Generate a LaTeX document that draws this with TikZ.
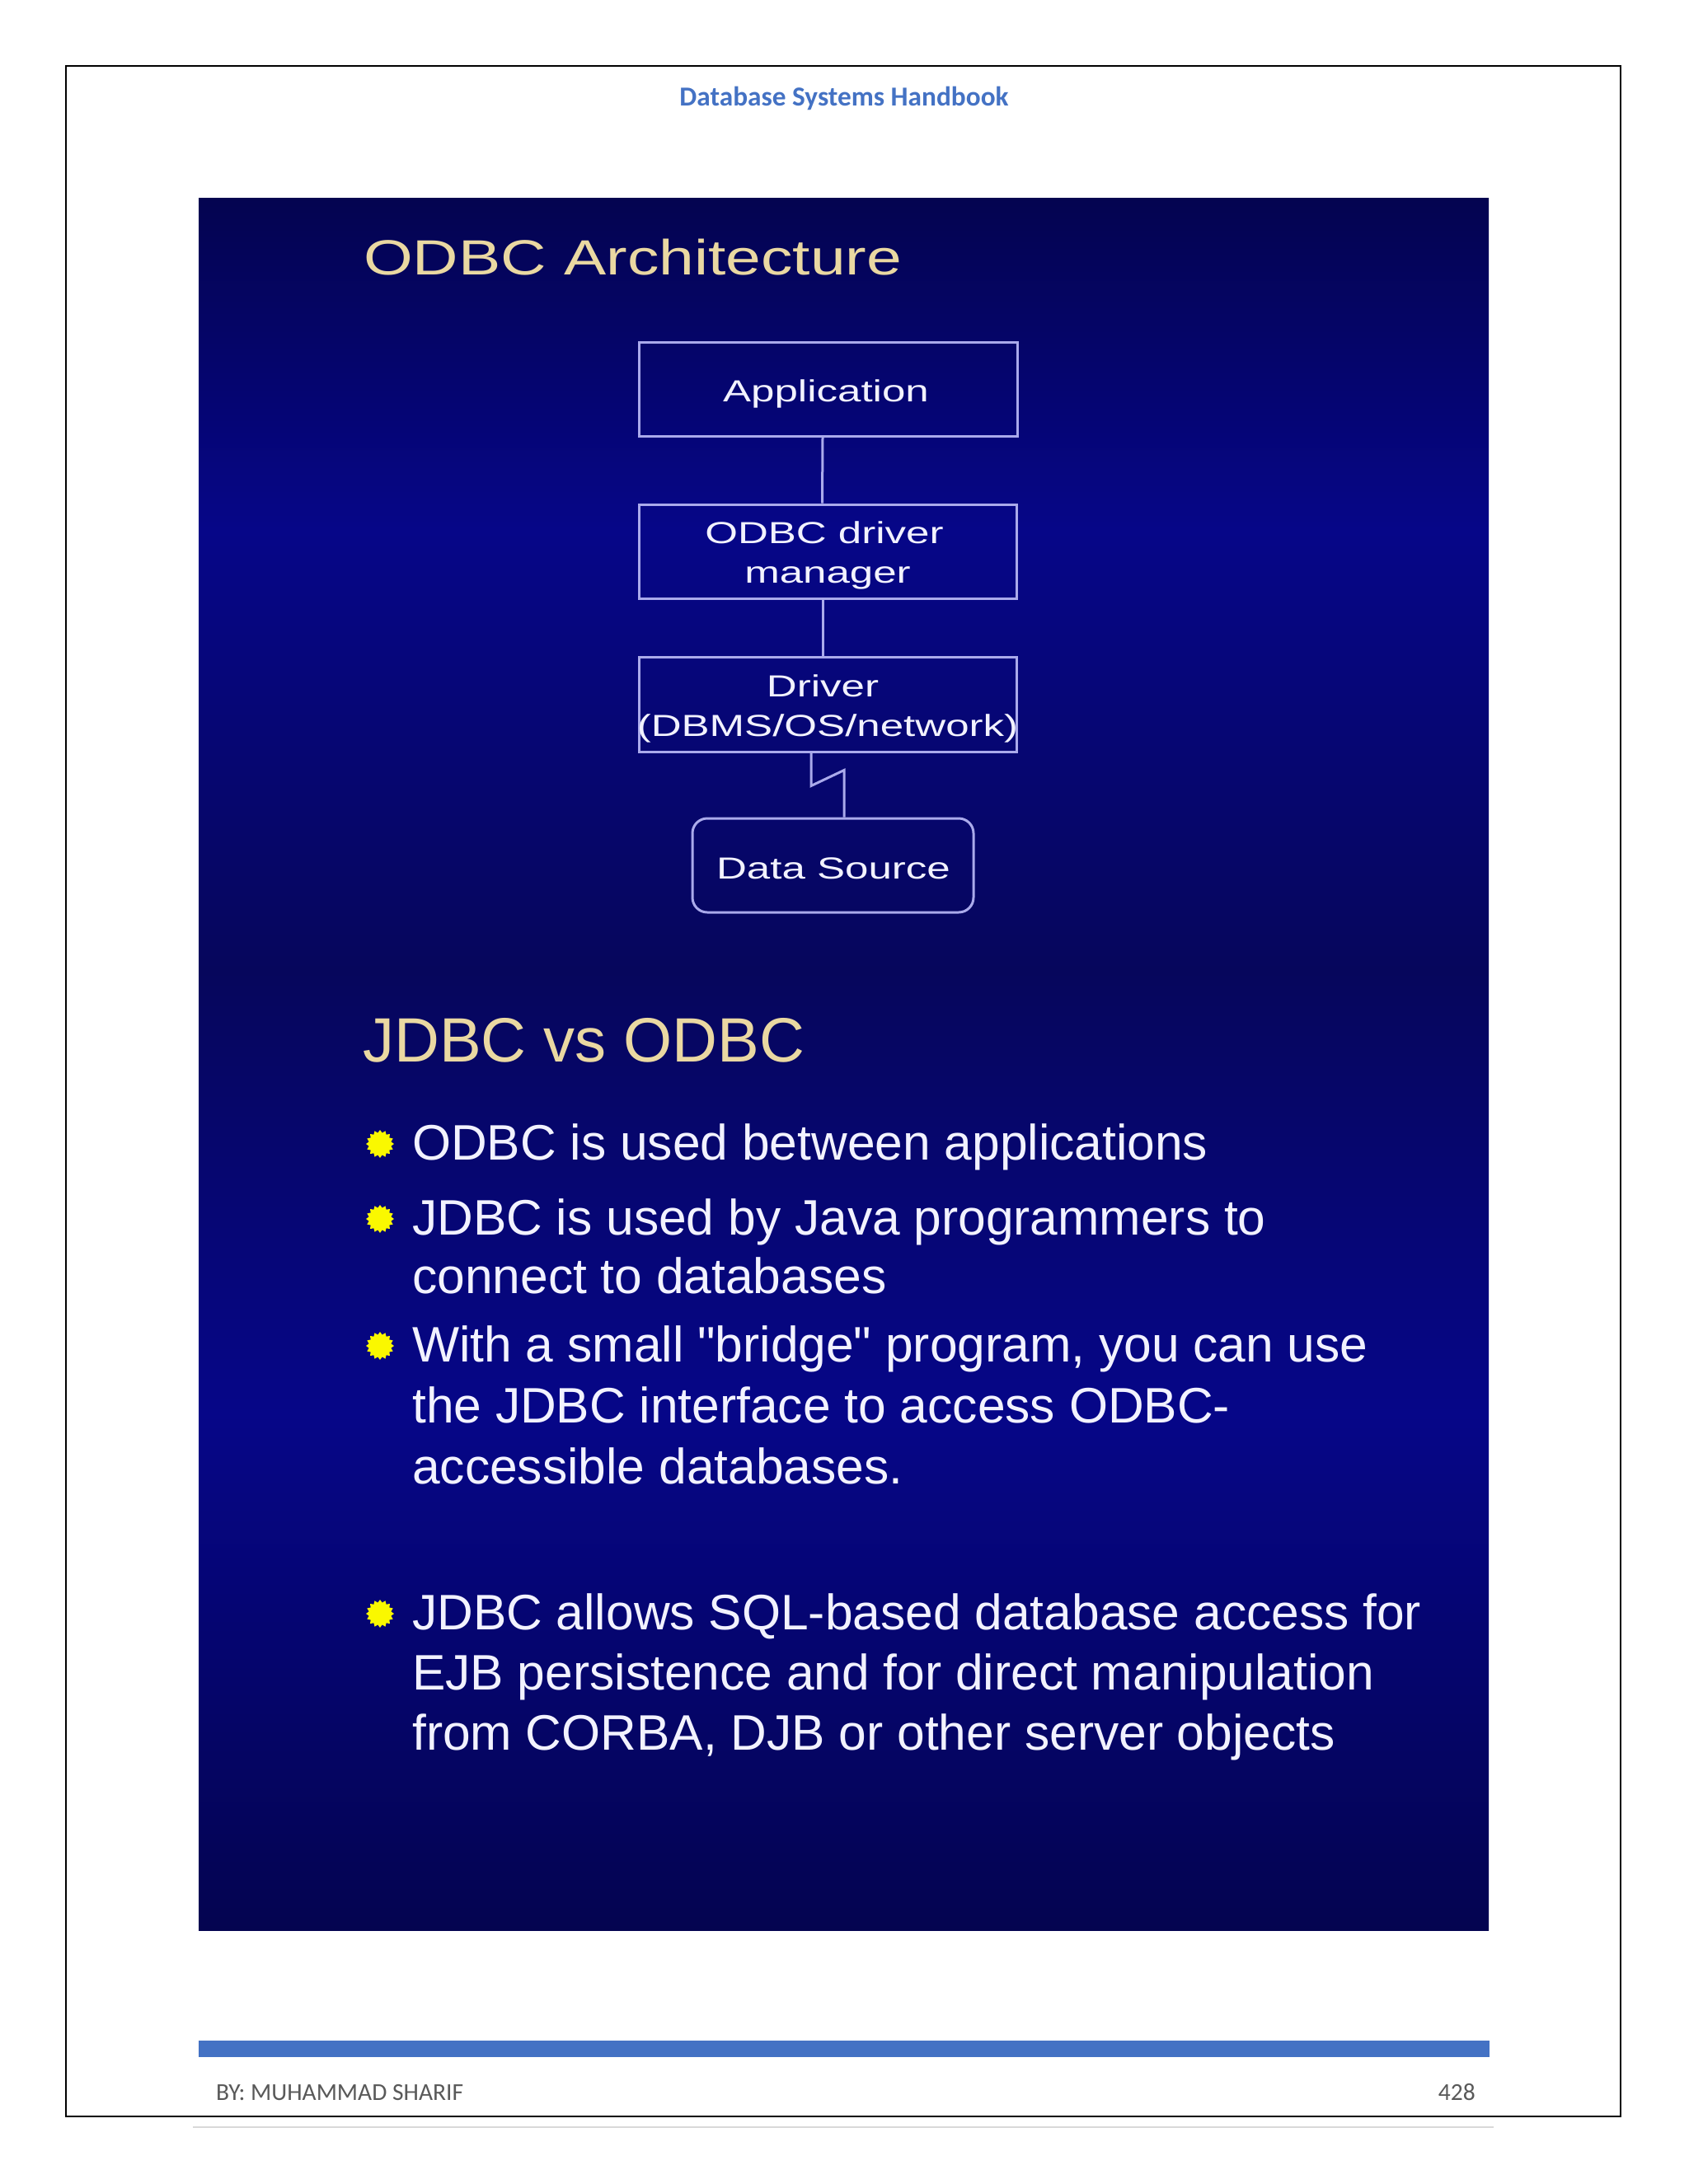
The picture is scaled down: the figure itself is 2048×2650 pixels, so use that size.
\documentclass[tikz,border=0pt]{standalone}
\usepackage{fontspec}
\usetikzlibrary{shapes.geometric}
\setmainfont{Liberation Sans}
\newfontfamily\calibrifont{Carlito}
\newfontfamily\slidefont{Liberation Sans}
\newfontfamily\titlefont[FakeStretch=1.28]{Liberation Sans}
\newfontfamily\diagfont[FakeStretch=1.38]{Liberation Sans}
\definecolor{hdrblue}{HTML}{4472C4}
\definecolor{footgray}{HTML}{595959}
\definecolor{slidetan}{RGB}{234,216,162}
\definecolor{slidetext}{RGB}{242,242,255}
\definecolor{boxline}{RGB}{170,170,235}
\definecolor{bulletyellow}{RGB}{250,248,0}
\definecolor{sdark}{RGB}{4,4,80}
\definecolor{smid}{RGB}{6,6,92}
\definecolor{sbright}{RGB}{6,6,136}
\pgfdeclareverticalshading{slideshade}{100bp}{color(0bp)=(sdark); color(25bp)=(sdark); color(39.9bp)=(sbright); color(52.7bp)=(smid); color(65.4bp)=(sbright); color(75bp)=(sdark); color(100bp)=(sdark)}
\begin{document}
\begin{tikzpicture}[x=1pt,y=-1pt,
  box/.style={draw=boxline, line width=3pt, inner sep=0pt},
  conn/.style={draw=boxline, line width=3pt},
  dtext/.style={anchor=base, inner sep=0pt, text=slidetext, font=\diagfont\fontsize{37}{48}\selectfont},
  stitle/.style={anchor=base west, inner sep=0pt, text=slidetan},
  btext/.style={anchor=base west, inner sep=0pt, text=slidetext, font=\slidefont\fontsize{60.5}{73}\selectfont},
  bul/.style={star, star points=16, star point ratio=1.25, minimum size=34pt, inner sep=0pt, fill=bulletyellow, draw=none},
  foot/.style={inner sep=0pt, text=footgray, font=\calibrifont\fontsize{29.5}{35}\selectfont}]
\useasboundingbox (0,0) rectangle (2048,2650);
\fill[white] (0,0) rectangle (2048,2650);
% page frame
\draw[line width=2.5pt] (80,80) rectangle (1966,2568);
\node[anchor=base, inner sep=0pt, text=hdrblue, font=\calibrifont\bfseries\fontsize{33.3}{40}\selectfont] (hdr) at (1024,128) {Database Systems Handbook};
% slide background
\shade[shading=slideshade] (241,240) rectangle (1806,2342);
% title 1
\node[stitle, font=\titlefont\fontsize{60}{72}\selectfont] (t1) at (441,333) {ODBC Architecture};
% diagram boxes
\node[box, minimum width=459pt, minimum height=114pt] (app) at (1004.5,472) {};
\node[box, minimum width=458pt, minimum height=114pt] (mgr) at (1004,669) {};
\node[box, minimum width=458pt, minimum height=115pt] (drv) at (1004,854.5) {};
\node[box, rounded corners=18pt, minimum width=341pt, minimum height=114pt] (ds) at (1010.5,1050) {};
% diagram text
\node[dtext] (appT) at (1002,487) {Application};
\node[dtext] (mgrT1) at (1000,659) {ODBC driver};
\node[dtext] (mgrT2) at (1004,707) {manager};
\node[dtext] (drvT1) at (998,845) {Driver};
\node[dtext] (drvT2) at (1004,893) {(DBMS/OS/network)};
\node[dtext] (dsT) at (1011,1066) {Data Source};
% connectors
\draw[conn] ([xshift=-6.5pt]app.south) -- ([xshift=-6.5pt]mgr.north);
\draw[conn] ([xshift=-6pt]mgr.south) -- ([xshift=-6pt]drv.north);
\draw[conn] ([xshift=-20pt]drv.south) -- ++(0,40) -- ++(40,-19) -- ([xshift=13.5pt]ds.north);
% title 2
\node[stitle, font=\slidefont\fontsize{76}{90}\selectfont] (t2) at (440,1288) {JDBC vs ODBC};
% bullets
\node[bul] (b1) at (461,1388) {};
\node[bul] (b2) at (461,1479) {};
\node[bul] (b3) at (461,1633) {};
\node[bul] (b4) at (461,1958) {};
\node[btext] (l1) at (500,1407) {ODBC is used between applications};
\node[btext] (l2a) at (500,1498) {JDBC is used by Java programmers to};
\node[btext] (l2b) at (500,1569) {connect to databases};
\node[btext] (l3a) at (500,1652) {With a small "bridge" program, you can use};
\node[btext] (l3b) at (500,1726) {the JDBC interface to access ODBC-};
\node[btext] (l3c) at (500,1800) {accessible databases.};
\node[btext] (l4a) at (500,1977) {JDBC allows SQL-based database access for};
\node[btext] (l4b) at (500,2050) {EJB persistence and for direct manipulation};
\node[btext] (l4c) at (500,2123) {from CORBA, DJB or other server objects};
% footer
\fill[hdrblue] (241,2476) rectangle (1807,2496);
\node[foot, anchor=base west] (by) at (262,2548) {BY: MUHAMMAD SHARIF};
\node[foot, anchor=base east] (pg) at (1790,2548) {428};
\draw[line width=2.5pt, color=black!15] (234,2581) -- (1812,2581);
\end{tikzpicture}
\end{document}
